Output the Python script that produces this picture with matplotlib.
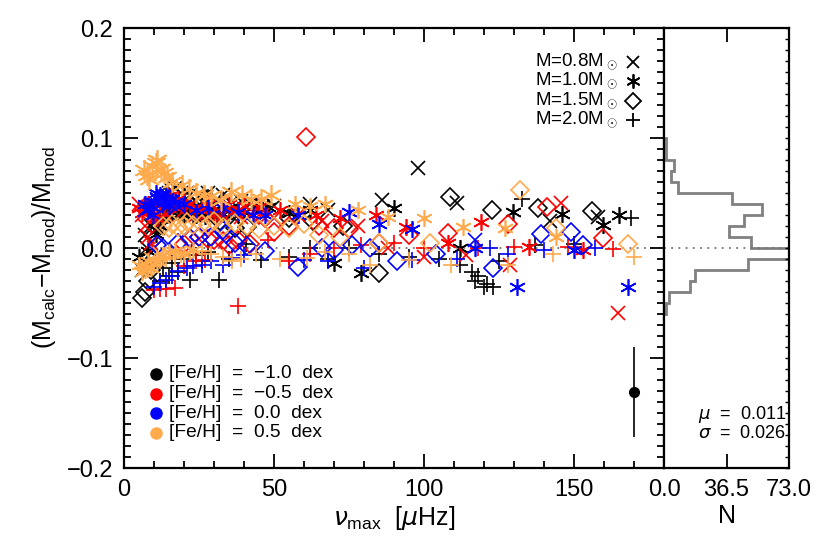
import numpy as np
import matplotlib
matplotlib.use("Agg")
import matplotlib.pyplot as plt

plt.rcParams['font.family'] = ['Liberation Sans', 'DejaVu Sans']
plt.rcParams['mathtext.fontset'] = 'custom'
plt.rcParams['mathtext.rm'] = 'Liberation Sans'
plt.rcParams['mathtext.it'] = 'DejaVu Sans:italic'
plt.rcParams['mathtext.sf'] = 'Liberation Sans'

# ---------------- data ----------------
# black: [Fe/H] = -1.0
blk_x_nu  = [6, 8, 7, 9, 11, 13, 16, 19, 22, 25, 28, 31, 36, 42, 50, 62, 68, 86, 98, 111, 142, 158,
             15, 17, 21, 24, 27, 33, 39, 46, 7.5, 10]
blk_x_val = [-0.02, -0.015, 0.012, 0.02, 0.03, 0.045, 0.052, 0.05, 0.048, 0.047, 0.05, 0.045, 0.042, 0.04, 0.038, 0.04, 0.035, 0.044, 0.073, 0.041, 0.025, 0.028,
             0.05, 0.055, 0.05, 0.043, 0.045, 0.048, 0.043, 0.037, 0.0, 0.025]
blk_a_nu  = [5, 8, 10.5, 12, 14, 16, 18, 20, 22, 24, 26, 28, 31, 35, 40, 44, 55, 62, 70, 79, 90, 112, 129.6, 146, 159.7, 165,
             11, 13, 15, 17, 19, 21, 23, 25, 27, 30, 33, 38, 48]
blk_a_val = [-0.008, -0.003, 0.013, 0.02, 0.031, 0.033, 0.035, 0.03, 0.034, 0.03, 0.036, 0.032, 0.03, 0.036, 0.033, 0.038, 0.032, 0.035, -0.014, -0.023, 0.036, 0.0, 0.033, 0.031, 0.021, 0.03,
             0.016, 0.027, 0.03, 0.038, 0.032, 0.037, 0.028, 0.033, 0.029, 0.035, 0.031, 0.03, 0.037]
blk_d_nu  = [6, 7, 8, 9, 10, 28, 32, 37, 41, 55, 63, 73, 85, 108.7, 122.6, 138, 156]
blk_d_val = [-0.045, -0.04, -0.03, -0.02, -0.01, 0.045, 0.025, 0.018, 0.019, 0.027, 0.025, 0.02, -0.023, 0.046, 0.035, 0.036, 0.034]
blk_p_nu  = [12, 15, 18, 22, 26, 31.7, 35, 40.6, 45.6, 55, 62, 68, 75, 85, 95, 105, 112, 116, 117, 118, 120, 121, 123, 125, 132.7, 137, 150, 169,
             13, 16, 20, 24, 28]
blk_p_val = [-0.03, -0.025, -0.022, -0.029, -0.012, -0.029, -0.01, 0.004, -0.011, -0.008, 0.0, -0.01, 0.0, -0.005, -0.008, -0.01, -0.015, -0.022, -0.03, -0.025, -0.035, -0.033, -0.035, -0.012, 0.045, 0.003, 0.004, 0.027,
             -0.018, -0.014, -0.01, -0.006, -0.004]

# red: [Fe/H] = -0.5
red_x_nu  = [5, 6, 7, 8, 9, 10, 13, 16, 20, 24, 30, 36, 42, 50, 58, 66, 78, 88, 100, 114, 128.7, 145.7, 164.8,
             11, 14, 18, 22, 27, 33, 39, 46]
red_x_val = [0.04, 0.03, 0.02, 0.01, 0.005, 0.0, 0.035, 0.04, 0.035, 0.03, 0.03, 0.033, 0.03, 0.027, 0.03, 0.025, 0.02, 0.0, -0.008, -0.006, -0.015, 0.041, -0.059,
             0.028, 0.03, 0.036, 0.038, 0.033, 0.03, 0.028, 0.03]
red_a_nu  = [5, 6, 8, 12, 15, 18, 22, 26, 30, 35, 40, 45, 52, 58, 64, 72, 84, 94, 108, 119, 135, 153,
             7, 9, 10, 11, 13, 17, 20, 24, 28, 33, 38]
red_a_val = [0.036, 0.032, 0.04, 0.045, 0.047, 0.045, 0.04, 0.035, 0.033, 0.04, 0.038, 0.037, 0.035, 0.03, 0.03, 0.027, 0.03, 0.019, 0.005, 0.024, 0.001, -0.002,
             0.038, 0.035, 0.03, 0.027, 0.042, 0.04, 0.043, 0.037, 0.04, 0.036, 0.035]
red_d_nu  = [20, 22, 28, 30, 38, 42, 45, 47, 55, 60.7, 65, 75, 85, 95, 108, 128, 141, 159.7, 25, 33, 35, 50, 70]
red_d_val = [0.004, 0.008, 0.008, 0.007, 0.007, 0.004, 0.03, 0.027, 0.02, 0.101, 0.02, 0.017, 0.005, 0.012, 0.014, 0.022, 0.037, 0.009, 0.01, 0.006, 0.003, 0.015, 0.018]
red_p_nu  = [10, 12, 14, 17, 20, 24, 27, 38, 48, 55, 62, 70, 79, 90, 100, 118, 130, 148, 163]
red_p_val = [-0.038, -0.037, -0.037, -0.036, -0.016, -0.012, -0.011, -0.053, 0.007, -0.012, -0.005, 0.0, 0.003, 0.005, 0.0, 0.0, 0.001, 0.001, -0.001]

# blue: [Fe/H] = 0.0
blu_x_nu  = [7, 9, 11, 13, 15, 18, 117]
blu_x_val = [0.035, 0.04, 0.045, 0.047, 0.04, 0.038, 0.007]
blu_a_nu  = [8, 9, 10, 11, 12, 13, 14, 16, 20, 28, 38, 47, 58, 75, 85, 96, 117, 131, 150, 168,
             7, 9.5, 10.5, 12.5, 15, 17, 24, 33, 43]
blu_a_val = [0.035, 0.038, 0.042, 0.046, 0.048, 0.044, 0.05, 0.045, 0.04, 0.036, 0.033, 0.03, 0.03, 0.033, 0.022, 0.017, 0.0, -0.035, -0.002, -0.035,
             0.04, 0.03, 0.05, 0.04, 0.038, 0.042, 0.035, 0.036, 0.03]
blu_d_nu  = [11, 13, 18, 22, 25, 29, 33, 34, 37, 41, 47, 58, 66, 70, 76, 82, 91, 104, 123, 139, 149, 153]
blu_d_val = [0.003, 0.0, 0.005, 0.009, 0.01, 0.01, 0.016, 0.013, 0.005, 0.002, -0.003, -0.017, 0.0, -0.002, 0.003, 0.0, -0.012, -0.005, -0.018, 0.013, 0.015, 0.003]
blu_p_nu  = [10, 12, 14, 16, 18, 21, 23, 26, 29, 33, 36, 40, 60, 68, 80, 96, 111, 122, 128, 140, 157]
blu_p_val = [-0.035, -0.032, -0.029, -0.025, -0.021, -0.018, -0.016, -0.015, -0.012, -0.015, -0.009, -0.006, -0.011, -0.012, -0.018, -0.011, -0.01, 0.0, -0.005, -0.002, 0.0]

# orange: [Fe/H] = 0.5
org_x_nu  = [7, 9, 12]
org_x_val = [-0.015, -0.01, -0.005]
org_abig_nu  = [6.7, 7.8, 8.3, 9.4, 10.6, 11.1, 12.2, 13.3, 14.4, 16.1, 19.4, 21.7, 23.9, 26.7, 28.9, 32.2,
                35.6, 39.4, 42.2, 45.6, 48.9]
org_abig_val = [0.071, 0.066, 0.063, 0.075, 0.077, 0.08, 0.072, 0.068, 0.065, 0.06, 0.057, 0.054, 0.05, 0.048, 0.047, 0.044,
                0.051, 0.048, 0.045, 0.045, 0.048]
org_a_nu  = [5, 7, 9, 11, 17, 20, 23, 13, 15, 6, 8, 57, 62, 67, 78, 88, 100, 113, 127, 144]
org_a_val = [-0.015, -0.02, -0.018, -0.012, -0.003, -0.005, -0.002, -0.006, -0.004, -0.022, -0.012,
             0.04, 0.038, 0.04, 0.035, 0.028, 0.027, 0.019, 0.018, 0.01]
org_d_nu  = [13, 15, 18, 20, 23, 26, 30, 37, 45, 50, 60, 65, 72, 85, 102, 132, 144, 168, 16, 21, 28, 33, 41, 55]
org_d_val = [0.02, 0.018, 0.019, 0.02, 0.021, 0.022, 0.025, 0.023, 0.017, 0.02, 0.022, 0.012, 0.01, 0.005, 0.005, 0.053, 0.018, 0.004,
             0.022, 0.024, 0.021, 0.019, 0.02, 0.018]
org_p_nu  = [6, 8, 10, 22, 26, 29, 39, 44, 52, 61, 67, 75, 82, 95, 109, 128, 143, 170, 12, 14, 17, 19, 33, 36]
org_p_val = [-0.018, -0.02, -0.016, -0.004, -0.003, -0.005, -0.01, -0.005, -0.01, -0.009, -0.004, -0.005, -0.015, -0.011, -0.015, -0.015, -0.005, -0.008,
             -0.012, -0.01, -0.008, -0.006, -0.008, -0.012]

# histogram of the residuals
hist_edges  = [-0.06, -0.05, -0.04, -0.03, -0.02, -0.01, 0.0, 0.01, 0.02, 0.03, 0.04, 0.05, 0.06, 0.07, 0.08, 0.09, 0.10]
hist_counts = [1, 3, 15, 18, 49, 73, 51, 38, 47, 57, 40, 8, 4, 6, 1, 1]

mass_labels = ['M=0.8M$_\\odot$', 'M=1.0M$_\\odot$', 'M=1.5M$_\\odot$', 'M=2.0M$_\\odot$']
feh_labels  = ['[Fe/H]  =  \u22121.0  dex', '[Fe/H]  =  \u22120.5  dex', '[Fe/H]  =  0.0  dex', '[Fe/H]  =  0.5  dex']
mu_text    = '$\\mu$  =  0.011'
sigma_text = '$\\sigma$  =  0.026'
err_nu, err_val, err_size = 170, -0.131, 0.041

# ---------------- styles ----------------
BLACK, RED, BLUE, ORANGE = '#000000', '#ff0000', '#0000ff', '#ffaa4d'
AST = (6, 2, 0)
markers = {'x': ('x', 10), 'a': (AST, 12), 'A': (AST, 15), 'd': ('D', 9), 'p': ('+', 12)}

fig = plt.figure(figsize=(8.30, 5.53), dpi=100)
ax = fig.add_axes([124/830, 1-468/553, 540/830, 440/553])
axh = fig.add_axes([664/830, 1-468/553, 125/830, 440/553])

ax.axhline(0, color='0.45', ls=(0, (1, 3)), lw=1.3, zorder=1)

groups = [
    (BLACK, 'x', blk_x_nu, blk_x_val), (BLACK, 'a', blk_a_nu, blk_a_val),
    (BLACK, 'd', blk_d_nu, blk_d_val), (BLACK, 'p', blk_p_nu, blk_p_val),
    (RED, 'x', red_x_nu, red_x_val), (RED, 'a', red_a_nu, red_a_val),
    (RED, 'd', red_d_nu, red_d_val), (RED, 'p', red_p_nu, red_p_val),
    (BLUE, 'x', blu_x_nu, blu_x_val), (BLUE, 'a', blu_a_nu, blu_a_val),
    (BLUE, 'd', blu_d_nu, blu_d_val), (BLUE, 'p', blu_p_nu, blu_p_val),
    (ORANGE, 'x', org_x_nu, org_x_val), (ORANGE, 'A', org_abig_nu, org_abig_val),
    (ORANGE, 'a', org_a_nu, org_a_val),
    (ORANGE, 'd', org_d_nu, org_d_val), (ORANGE, 'p', org_p_nu, org_p_val),
]
for col, key, xs, ys in groups:
    m, ms = markers[key]
    ax.plot(xs, ys, ls='none', marker=m, ms=ms, mec=col, mfc='none', mew=1.2, zorder=3)

# error bar
ax.errorbar([err_nu], [err_val], yerr=[err_size], fmt='o', color='k', ms=7, elinewidth=1.2, capsize=0)

ax.set_xlim(0, 180)
ax.set_ylim(-0.2, 0.2)
ax.set_xticks([0, 50, 100, 150])
ax.set_xticks(np.arange(0, 181, 10), minor=True)
ax.set_yticks([-0.2, -0.1, 0.0, 0.1, 0.2])
ax.set_yticks(np.arange(-0.2, 0.2001, 0.01), minor=True)
ax.set_yticklabels(['\u22120.2', '\u22120.1', '0.0', '0.1', '0.2'])
ax.tick_params(which='both', direction='in', top=True, right=True, width=1.3, labelsize=17, pad=8)
ax.tick_params(which='major', length=10)
ax.tick_params(which='minor', length=5)
for s in ax.spines.values():
    s.set_linewidth(1.6)
ax.set_xlabel('$\\nu_{\\rm max}$  [$\\mu$Hz]', fontsize=18, labelpad=2)
ax.set_ylabel('(M$_{\\rm calc}$$-$M$_{\\rm mod}$)/M$_{\\rm mod}$', fontsize=18, labelpad=6)

# mass legend
for i, lab in enumerate(mass_labels):
    yv = 0.169 - i * 0.0175
    ax.text(164.5, yv, lab, ha='right', va='center', fontsize=13.5)
    m, ms = markers['xadp'[i]]
    ax.plot([169.7], [yv], ls='none', marker=m, ms=ms * 0.85, mec='k', mfc='none', mew=1.3)

# metallicity legend
for i, (lab, col) in enumerate(zip(feh_labels, [BLACK, RED, BLUE, ORANGE])):
    yv = -0.1145 - i * 0.0178
    ax.plot([10.7], [yv], 'o', color=col, ms=8)
    ax.text(15, yv, lab, ha='left', va='center', fontsize=13.8)

# histogram panel
axh.stairs(hist_counts, hist_edges, orientation='horizontal', baseline=0, color='0.5', lw=2)
axh.axhline(0, color='0.45', ls=(0, (1, 3)), lw=1.3, zorder=1)
axh.set_xlim(0, 73)
axh.set_ylim(-0.2, 0.2)
axh.set_xticks([0, 36.5, 73])
axh.set_xticklabels(['0.0', '36.5', '73.0'])
axh.set_yticks([])
axh.set_yticks(np.arange(-0.2, 0.2001, 0.01), minor=True)
axh.tick_params(axis='y', which='minor', direction='in', left=False, right=True, length=3, width=1)
axh.tick_params(axis='x', which='major', direction='in', top=True, length=10, width=1.3, labelsize=17, pad=8)
for s in axh.spines.values():
    s.set_linewidth(1.6)
axh.set_xlabel('N', fontsize=18, labelpad=2)
axh.text(71.5, -0.151, mu_text, ha='right', va='center', fontsize=13)
axh.text(71.5, -0.169, sigma_text, ha='right', va='center', fontsize=13)

fig.savefig('out.png', dpi=100)
